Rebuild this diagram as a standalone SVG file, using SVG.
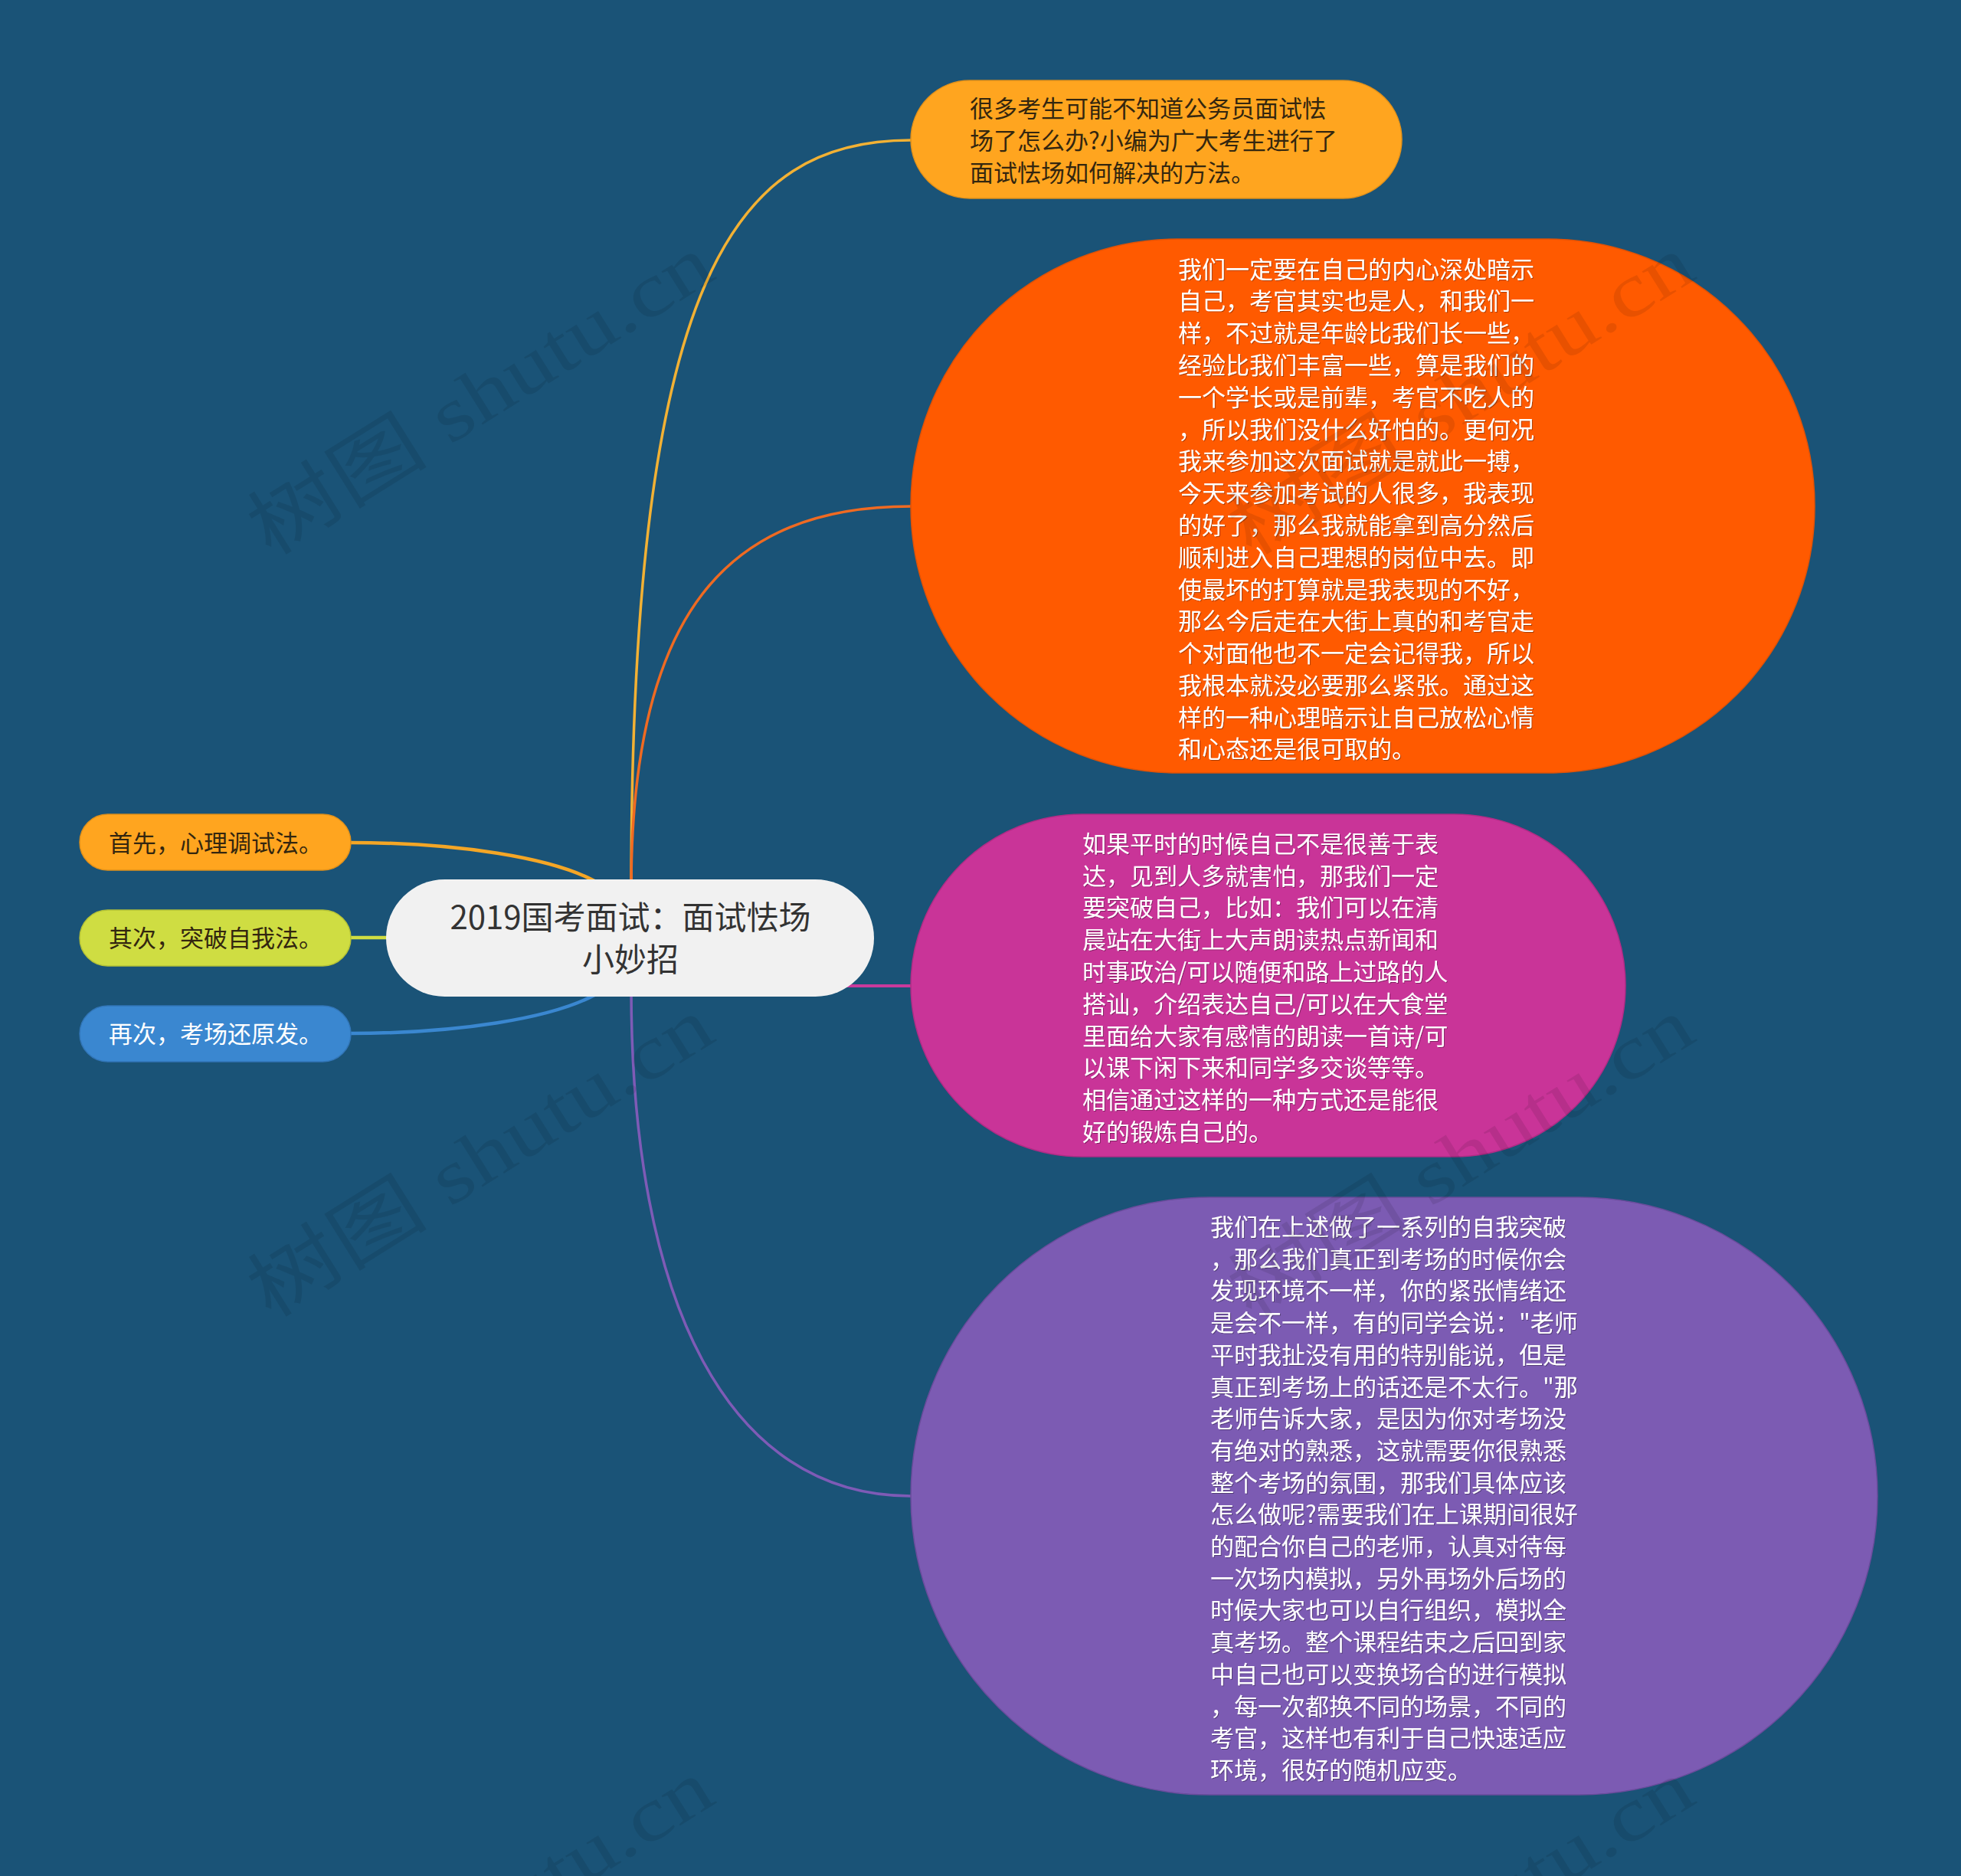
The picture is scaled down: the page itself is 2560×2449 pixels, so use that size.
<svg xmlns="http://www.w3.org/2000/svg" width="2560" height="2449" viewBox="0 0 2560 2449">
<style>
.t{font-family:"Noto Sans CJK SC","Noto Sans",sans-serif;font-size:31px}
.dark{fill:#33260f}
.light{fill:#ffffff}
.conn{fill:none;stroke-linecap:round}
.wm{font-family:"Liberation Serif","Noto Sans CJK SC",serif;font-size:100px;fill:#000;fill-opacity:0.09}
</style>
<defs>
<filter id="sh" x="-5%" y="-5%" width="110%" height="110%">
<feDropShadow dx="1" dy="1" stdDeviation="0.6" flood-color="#000" flood-opacity="0.35"/>
</filter>
</defs>
<rect x="0" y="0" width="2560" height="2449" fill="#1a5377"/>

<g id="connectors">
<path class="conn" d="M824 1160 C824 360 960 183 1189 183" stroke="#f2b134" stroke-width="3.5"/>
<path class="conn" d="M824 1160 C824 800 950 661 1189 661" stroke="#ef6a22" stroke-width="3.5"/>
<path class="conn" d="M824 1287 L1189 1287" stroke="#c93a9c" stroke-width="4"/>
<path class="conn" d="M824 1290 C824 1700 950 1953 1189 1953" stroke="#7e5bb6" stroke-width="3.5"/>
<path class="conn" d="M457 1100 C600 1100 720 1120 776 1150" stroke="#f4a626" stroke-width="4.5"/>
<path class="conn" d="M457 1224 L520 1224" stroke="#cfdd42" stroke-width="4.5"/>
<path class="conn" d="M457 1349 C600 1349 720 1329 776 1299" stroke="#3a87d0" stroke-width="4.5"/>
</g>

<g id="center">
<rect x="504" y="1148" width="637" height="153" rx="76.5" fill="#f1f1f1"/>
<text x="823" y="1213" text-anchor="middle" font-family="'Noto Sans CJK SC','Noto Sans',sans-serif" font-size="42" fill="#333333">2019国考面试：面试怯场</text>
<text x="823" y="1268" text-anchor="middle" font-family="'Noto Sans CJK SC','Noto Sans',sans-serif" font-size="42" fill="#333333">小妙招</text>
</g>

<g id="node-intro">
<rect x="1189" y="105" width="641" height="154" rx="77" fill="#ffa51f" stroke="#e0901a" stroke-width="1.5"/>
<text class="t dark"><tspan x="1266" y="153">很多考生可能不知道公务员面试怯</tspan><tspan x="1266" y="195">场了怎么办?小编为广大考生进行了</tspan><tspan x="1266" y="237">面试怯场如何解决的方法。</tspan></text>
</g>

<g id="node-psych">
<rect x="1189" y="312" width="1180" height="697" rx="348" fill="#ff5a00" stroke="#e05206" stroke-width="1.5"/>
<text class="t light" filter="url(#sh)"><tspan x="1538" y="362.5">我们一定要在自己的内心深处暗示</tspan><tspan x="1538" dy="41.8">自己，考官其实也是人，和我们一</tspan><tspan x="1538" dy="41.8">样，不过就是年龄比我们长一些，</tspan><tspan x="1538" dy="41.8">经验比我们丰富一些，算是我们的</tspan><tspan x="1538" dy="41.8">一个学长或是前辈，考官不吃人的</tspan><tspan x="1538" dy="41.8">，所以我们没什么好怕的。更何况</tspan><tspan x="1538" dy="41.8">我来参加这次面试就是就此一搏，</tspan><tspan x="1538" dy="41.8">今天来参加考试的人很多，我表现</tspan><tspan x="1538" dy="41.8">的好了，那么我就能拿到高分然后</tspan><tspan x="1538" dy="41.8">顺利进入自己理想的岗位中去。即</tspan><tspan x="1538" dy="41.8">使最坏的打算就是我表现的不好，</tspan><tspan x="1538" dy="41.8">那么今后走在大街上真的和考官走</tspan><tspan x="1538" dy="41.8">个对面他也不一定会记得我，所以</tspan><tspan x="1538" dy="41.8">我根本就没必要那么紧张。通过这</tspan><tspan x="1538" dy="41.8">样的一种心理暗示让自己放松心情</tspan><tspan x="1538" dy="41.8">和心态还是很可取的。</tspan></text>
</g>

<g id="node-break">
<rect x="1189" y="1063" width="933" height="447" rx="223.5" fill="#c93498" stroke="#b02c86" stroke-width="1.5"/>
<text class="t light" filter="url(#sh)"><tspan x="1413" y="1112.7">如果平时的时候自己不是很善于表</tspan><tspan x="1413" dy="41.8">达，见到人多就害怕，那我们一定</tspan><tspan x="1413" dy="41.8">要突破自己，比如：我们可以在清</tspan><tspan x="1413" dy="41.8">晨站在大街上大声朗读热点新闻和</tspan><tspan x="1413" dy="41.8">时事政治/可以随便和路上过路的人</tspan><tspan x="1413" dy="41.8">搭讪，介绍表达自己/可以在大食堂</tspan><tspan x="1413" dy="41.8">里面给大家有感情的朗读一首诗/可</tspan><tspan x="1413" dy="41.8">以课下闲下来和同学多交谈等等。</tspan><tspan x="1413" dy="41.8">相信通过这样的一种方式还是能很</tspan><tspan x="1413" dy="41.8">好的锻炼自己的。</tspan></text>
</g>

<g id="node-scene">
<rect x="1189" y="1563" width="1262" height="780" rx="390" fill="#7c5bb3" stroke="#6a4c9c" stroke-width="1.5"/>
<text class="t light" filter="url(#sh)"><tspan x="1580" y="1613">我们在上述做了一系列的自我突破</tspan><tspan x="1580" dy="41.7">，那么我们真正到考场的时候你会</tspan><tspan x="1580" dy="41.7">发现环境不一样，你的紧张情绪还</tspan><tspan x="1580" dy="41.7">是会不一样，有的同学会说："老师</tspan><tspan x="1580" dy="41.7">平时我扯没有用的特别能说，但是</tspan><tspan x="1580" dy="41.7">真正到考场上的话还是不太行。"那</tspan><tspan x="1580" dy="41.7">老师告诉大家，是因为你对考场没</tspan><tspan x="1580" dy="41.7">有绝对的熟悉，这就需要你很熟悉</tspan><tspan x="1580" dy="41.7">整个考场的氛围，那我们具体应该</tspan><tspan x="1580" dy="41.7">怎么做呢?需要我们在上课期间很好</tspan><tspan x="1580" dy="41.7">的配合你自己的老师，认真对待每</tspan><tspan x="1580" dy="41.7">一次场内模拟，另外再场外后场的</tspan><tspan x="1580" dy="41.7">时候大家也可以自行组织，模拟全</tspan><tspan x="1580" dy="41.7">真考场。整个课程结束之后回到家</tspan><tspan x="1580" dy="41.7">中自己也可以变换场合的进行模拟</tspan><tspan x="1580" dy="41.7">，每一次都换不同的场景，不同的</tspan><tspan x="1580" dy="41.7">考官，这样也有利于自己快速适应</tspan><tspan x="1580" dy="41.7">环境，很好的随机应变。</tspan></text>
</g>

<g id="node-first">
<rect x="104" y="1063" width="354" height="73" rx="36.5" fill="#ffa51f" stroke="#e0901a" stroke-width="1.5"/>
<text class="t dark" x="142" y="1112">首先，心理调试法。</text>
</g>

<g id="node-second">
<rect x="104" y="1188" width="354" height="73" rx="36.5" fill="#cfdd42" stroke="#b5c236" stroke-width="1.5"/>
<text class="t dark" x="142" y="1236">其次，突破自我法。</text>
</g>

<g id="node-third">
<rect x="104" y="1313" width="354" height="73" rx="36.5" fill="#3a87d0" stroke="#3276b8" stroke-width="1.5"/>
<text class="t light" x="142" y="1361">再次，考场还原发。</text>
</g>

<g id="watermark">
<text class="wm" text-anchor="middle" textLength="690" lengthAdjust="spacingAndGlyphs" transform="translate(645 545) rotate(-32)">树图 shutu.cn</text>
<text class="wm" text-anchor="middle" textLength="690" lengthAdjust="spacingAndGlyphs" transform="translate(1925 545) rotate(-32)">树图 shutu.cn</text>
<text class="wm" text-anchor="middle" textLength="690" lengthAdjust="spacingAndGlyphs" transform="translate(645 1540) rotate(-32)">树图 shutu.cn</text>
<text class="wm" text-anchor="middle" textLength="690" lengthAdjust="spacingAndGlyphs" transform="translate(1925 1540) rotate(-32)">树图 shutu.cn</text>
<text class="wm" text-anchor="middle" textLength="690" lengthAdjust="spacingAndGlyphs" transform="translate(645 2535) rotate(-32)">树图 shutu.cn</text>
<text class="wm" text-anchor="middle" textLength="690" lengthAdjust="spacingAndGlyphs" transform="translate(1925 2535) rotate(-32)">树图 shutu.cn</text>
</g>
</svg>
